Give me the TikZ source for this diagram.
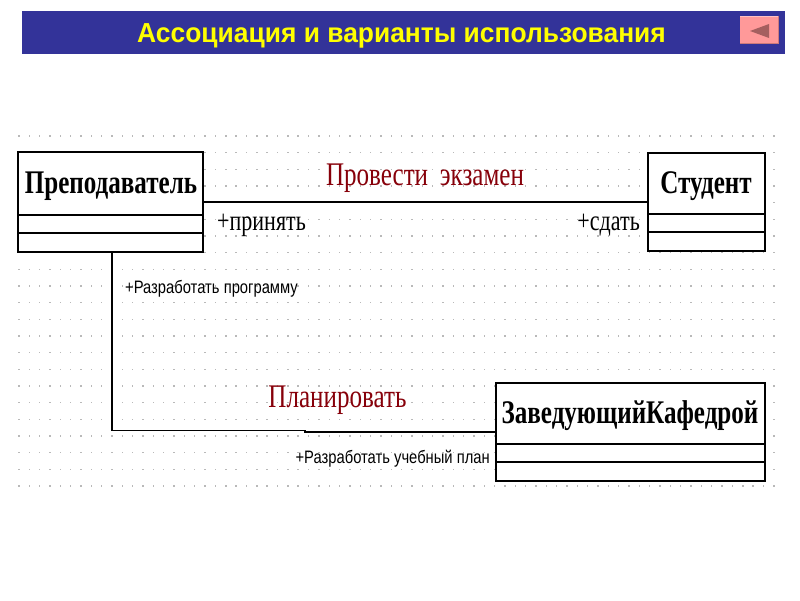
\documentclass[tikz,border=0pt]{standalone}
\usepackage{fontspec}
\setmainfont{Liberation Serif}
\newfontfamily\umlserif[FakeStretch=0.76]{Liberation Serif}
\newfontfamily\umlsans[FakeStretch=0.82]{Liberation Sans}
\newfontfamily\titlefont[FakeStretch=0.96]{Liberation Sans}
\definecolor{barblue}{RGB}{51,51,153}
\definecolor{titleyellow}{RGB}{255,255,0}
\definecolor{btnpink}{RGB}{255,153,153}
\definecolor{btntri}{RGB}{165,95,95}
\definecolor{assocred}{RGB}{135,0,10}
\definecolor{griddot}{RGB}{185,185,185}
\tikzset{
  classbox/.style={draw=black, line width=1.5pt, fill=white, rectangle, inner sep=0pt},
  classname/.style={inner sep=0pt, anchor=base, font=\umlserif\bfseries\fontsize{33}{37}\selectfont},
  assocname/.style={inner sep=0pt, anchor=base, text=assocred, font=\umlserif\fontsize{33}{38}\selectfont},
  rolename/.style={inner sep=0pt, font=\umlserif\fontsize{29}{33}\selectfont},
  oplabel/.style={inner sep=0pt, font=\umlsans\fontsize{18}{22}\selectfont},
  conn/.style={draw=black, line width=1.5pt},
  sepline/.style={draw=black, line width=1.5pt}
}
\begin{document}
\begin{tikzpicture}[x=1pt, y=-1pt]
\useasboundingbox (0,0) rectangle (800,600);
\fill[white] (0,0) rectangle (800,600);
% title bar
\fill[barblue] (22,11) rectangle (785,54);
\node[inner sep=0pt, anchor=base, text=titleyellow, font=\titlefont\bfseries\fontsize{27.5}{31}\selectfont] (title) at (401.5,42) {Ассоциация и варианты использования};
% back button
\fill[btnpink!80!black] (740,16) rectangle (779,44);
\fill[btnpink] (740,16) rectangle (777.5,42.5);
\fill[btnpink!60!white] (740,16) rectangle (778,17);
\fill[btntri] (750,31) -- (769,24) -- (769,38) -- cycle;
% dotted grid
\foreach \i in {0,...,73} {
  \foreach \j in {0,...,21} {
    \fill[griddot] ({19+\i*10.34-0.7},{136+\j*16.67-0.7}) rectangle ++(1.4,1.4);
  }
}
% classes
\node[classbox, minimum width=185pt, minimum height=100pt] (prep) at (110.5,202) {};
\draw[sepline] (prep.west |- 0,215) -- (prep.east |- 0,215);
\draw[sepline] (prep.west |- 0,233) -- (prep.east |- 0,233);
\node[classname] (prepname) at (111,193) {Преподаватель};

\node[classbox, minimum width=117pt, minimum height=98pt] (stud) at (706.5,202) {};
\draw[sepline] (stud.west |- 0,214) -- (stud.east |- 0,214);
\draw[sepline] (stud.west |- 0,232) -- (stud.east |- 0,232);
\node[classname] (studname) at (706,193) {Студент};

\node[classbox, minimum width=269pt, minimum height=98pt] (zav) at (630.5,432) {};
\draw[sepline] (zav.west |- 0,444) -- (zav.east |- 0,444);
\draw[sepline] (zav.west |- 0,462) -- (zav.east |- 0,462);
\node[classname] (zavname) at (630,423) {ЗаведующийКафедрой};

% associations
\draw[conn] (prep.east) -- (stud.west);
\coordinate (bend) at (112,430.5);
\coordinate (step) at (305,430.5);
\draw[conn] (prep.south -| bend) -- (bend) -- (step) -- (step |- zav.west) -- (zav.west);

% labels
\node[assocname] (exam) at (425,185) {Провести\, экзамен};
\node[rolename, anchor=base west] (prin) at (217,230) {+принять};
\node[rolename, anchor=base east] (sdat) at (640,230) {+сдать};
\node[oplabel, anchor=base west] (razprog) at (125,293) {+Разработать программу};
\node[assocname] (plan) at (337.5,407) {Планировать};
\node[oplabel, anchor=base east] (razplan) at (490,463) {+Разработать учебный план};
\end{tikzpicture}
\end{document}
